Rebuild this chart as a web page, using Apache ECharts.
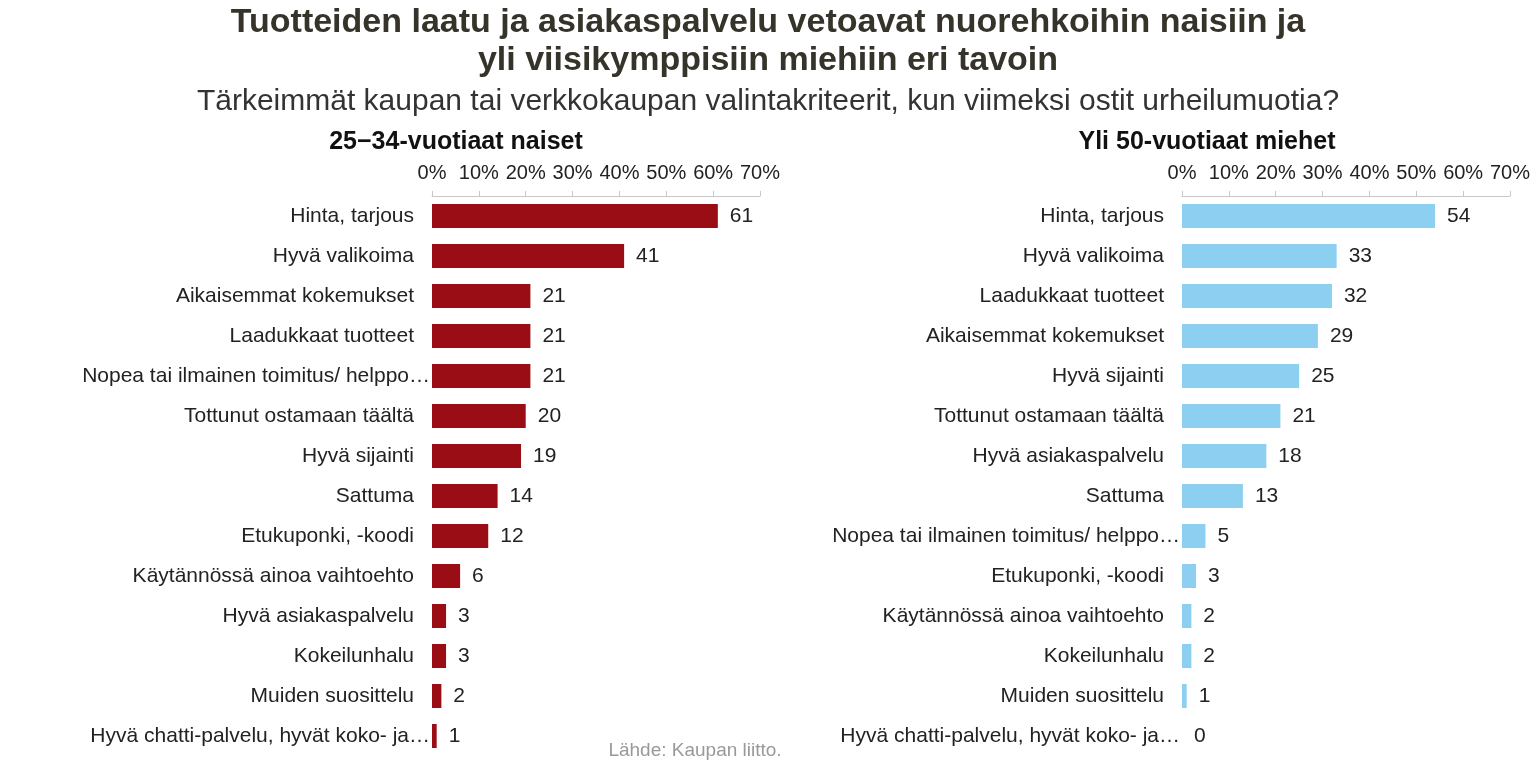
<!DOCTYPE html>
<html><head><meta charset="utf-8">
<script src="https://cdn.jsdelivr.net/npm/echarts@6/dist/echarts.min.js"></script>
<style>html,body{margin:0;padding:0;background:#fff}#c{width:1536px;height:767px}</style>
</head><body><div id="c"></div>
<script>
const leftCategories = ["Hinta, tarjous","Hyvä valikoima","Aikaisemmat kokemukset","Laadukkaat tuotteet","Nopea tai ilmainen toimitus/ helppo…","Tottunut ostamaan täältä","Hyvä sijainti","Sattuma","Etukuponki, -koodi","Käytännössä ainoa vaihtoehto","Hyvä asiakaspalvelu","Kokeilunhalu","Muiden suosittelu","Hyvä chatti-palvelu, hyvät koko- ja…"];
const leftValues = [61,41,21,21,21,20,19,14,12,6,3,3,2,1];
const rightCategories = ["Hinta, tarjous","Hyvä valikoima","Laadukkaat tuotteet","Aikaisemmat kokemukset","Hyvä sijainti","Tottunut ostamaan täältä","Hyvä asiakaspalvelu","Sattuma","Nopea tai ilmainen toimitus/ helppo…","Etukuponki, -koodi","Käytännössä ainoa vaihtoehto","Kokeilunhalu","Muiden suosittelu","Hyvä chatti-palvelu, hyvät koko- ja…"];
const rightValues = [54,33,32,29,25,21,18,13,5,3,2,2,1,0];
const axisTicks = [0,10,20,30,40,50,60,70];

const FONT = '"Liberation Sans", Arial, sans-serif';
const chart = echarts.init(document.getElementById('c'));
function xAxis(gi){return {gridIndex:gi,type:'value',position:'top',min:axisTicks[0],max:axisTicks[axisTicks.length-1],interval:axisTicks[1]-axisTicks[0],
  axisLine:{show:true,lineStyle:{color:'#c8c8c8'}},axisTick:{show:true,length:5,lineStyle:{color:'#c8c8c8'}},
  splitLine:{show:false},axisLabel:{formatter:'{value}%',fontSize:20,color:'#222',fontFamily:FONT,margin:13}};}
function yAxis(gi,cats){return {gridIndex:gi,type:'category',inverse:true,data:cats,
  axisLine:{show:false},axisTick:{show:false},axisLabel:{fontSize:21,color:'#222',fontFamily:FONT,margin:18,
    formatter:function(v){return v.endsWith('…')?'{l|'+v+'}':v;},rich:{l:{fontSize:21,color:'#222',fontFamily:FONT,padding:[0,-16,0,0]}}}};}
function series(gi,vals,color){return {type:'bar',xAxisIndex:gi,yAxisIndex:gi,data:vals,barWidth:24,
  itemStyle:{color:color},label:{show:true,position:'right',distance:12,fontSize:21,color:'#222',fontFamily:FONT},silent:true};}
chart.setOption({
  animation:false,
  title:[
    {text:'Tuotteiden laatu ja asiakaspalvelu vetoavat nuorehkoihin naisiin ja\nyli viisikymppisiin miehiin eri tavoin',left:'center',top:-1,
      textStyle:{fontSize:34,fontWeight:'bold',color:'#35332a',fontFamily:FONT,lineHeight:38}},
    {text:'Tärkeimmät kaupan tai verkkokaupan valintakriteerit, kun viimeksi ostit urheilumuotia?',left:'center',top:82,
      textStyle:{fontSize:30,fontWeight:'normal',color:'#333',fontFamily:FONT}},
    {text:'25−34-vuotiaat naiset',left:451,textAlign:'center',top:125,textStyle:{fontSize:25,fontWeight:'bold',color:'#111',fontFamily:FONT}},
    {text:'Yli 50-vuotiaat miehet',left:1202,textAlign:'center',top:125,textStyle:{fontSize:25,fontWeight:'bold',color:'#111',fontFamily:FONT}},
    {text:'Lähde: Kaupan liitto.',left:690,textAlign:'center',top:736,textStyle:{fontSize:19,fontWeight:'normal',color:'#999',fontFamily:FONT}}
  ],
  grid:[{left:432,top:196,width:328,height:560},{left:1182,top:196,width:328,height:560}],
  xAxis:[xAxis(0),xAxis(1)],
  yAxis:[yAxis(0,leftCategories),yAxis(1,rightCategories)],
  series:[series(0,leftValues,'#9b0d14'),series(1,rightValues,'#8dcff0')]
});
</script></body></html>
